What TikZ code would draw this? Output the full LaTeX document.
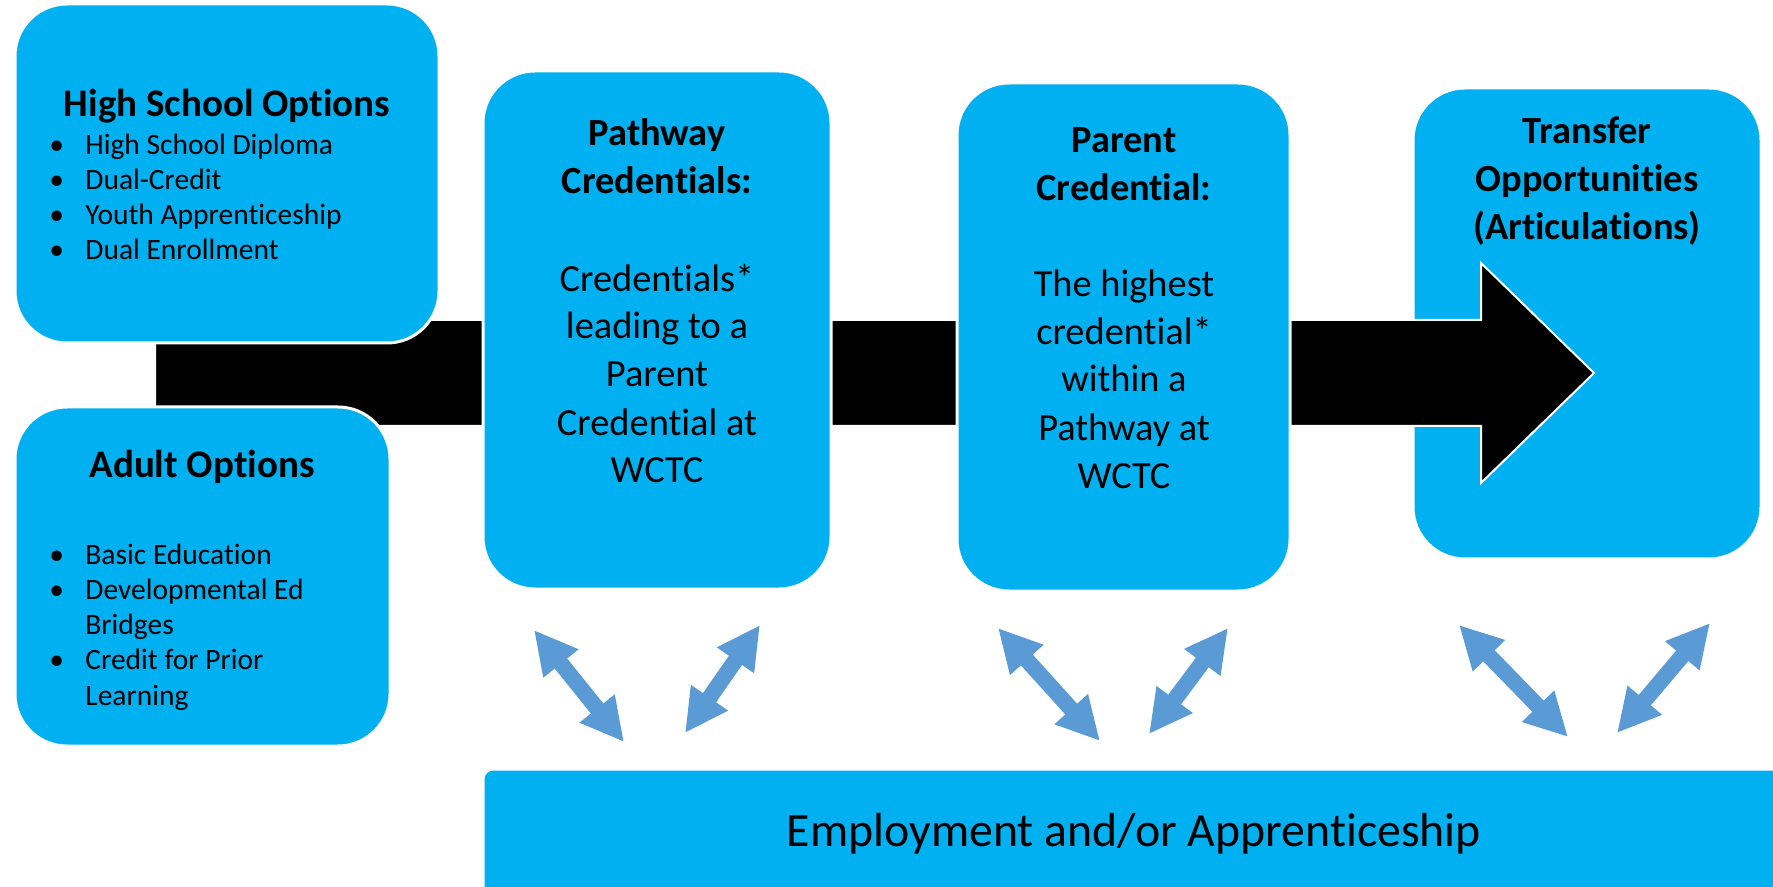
\documentclass[tikz,border=0pt]{standalone}
\usepackage{fontspec}
\setmainfont{Carlito}[Ligatures={NoCommon}]
\usepackage{tikz}
\usetikzlibrary{arrows.meta}
\definecolor{WctcCyan}{RGB}{ 0, 176, 240}
\definecolor{WctcSteel}{RGB}{ 91, 155, 213}

\newcommand{\itm}[1]{\makebox[18pt][l]{\textbullet}#1}

\begin{document}
\begin{tikzpicture}[x=0.5pt, y=-0.5pt]
      \tikzstyle{card}=[draw=white, line width=1.5pt, fill=WctcCyan, rounded corners=26pt, inner sep=0pt];
      \tikzstyle{head}=[font=\fontsize{19.2}{24}\selectfont\bfseries, align=center, inner sep=0pt, anchor=base];
      \tikzstyle{body}=[font=\fontsize{19.2}{24}\selectfont, align=center, inner sep=0pt, anchor=base];
      \tikzstyle{items}=[font=\fontsize{14.75}{17.6}\selectfont, align=left, inner sep=0pt, anchor=base west];
      \tikzstyle{link}=[WctcSteel, line width=8pt, {Triangle[width=21pt, length=21.5pt]}-{Triangle[width=21pt, length=21.5pt]}];

      \pgfdeclarelayer{background}
      \pgfdeclarelayer{foreground}
      \pgfsetlayers{background,main,foreground}

      \useasboundingbox (0,0) rectangle (1773,887);

      \begin{pgfonlayer}{background}
        \node[card, minimum width=174pt, minimum height=235.5pt] (transfer) at (1587,323.5) {};
      \end{pgfonlayer}

      % big flow arrow
      \draw[fill=black, draw=white, line width=1pt] (155,320) -- (1481,320) -- (1481,263) -- (1594,373)
        -- (1481,483) -- (1481,426) -- (155,426) -- cycle;

      \begin{pgfonlayer}{foreground}
        \node[card, minimum width=212pt, minimum height=169.5pt] (hs) at (227,173.5) {};
        \node[card, minimum width=187.5pt, minimum height=169.5pt] (adult) at (202.5,576.5) {};
        \node[card, minimum width=174pt, minimum height=259pt] (pathway) at (657,330) {};
        \node[card, minimum width=166.5pt, minimum height=254pt] (parent) at (1123.5,337) {};
        \node[card, rounded corners=5pt, minimum width=658.5pt, minimum height=75.5pt] (employ) at (1141.5,844.5) {};

        % multi-line texts sit on the baseline of their last line
        \node[head, font=\fontsize{19.5}{24}\selectfont\bfseries] (hs title) at (227,117) {High School Options};
        \node[items] (hs list) at (49,260) {\itm{High School Diploma}\\ \itm{Dual-Credit}\\
          \itm{Youth Apprenticeship}\\ \itm{Dual Enrollment}};

        \node[head, font=\fontsize{19.5}{24}\selectfont\bfseries] (adult title) at (202,478) {Adult Options};
        \node[items] (adult list) at (49,705) {\itm{Basic Education}\\ \itm{Developmental Ed}\\
          \hspace*{18pt}Bridges\\ \itm{Credit for Prior}\\ \hspace*{18pt}Learning};

        \node[head] (pathway title) at (657,194) {Pathway\\Credentials:};
        \node[body] (pathway text) at (657,483) {Credentials*\\leading to a\\Parent\\Credential at\\WCTC};

        \node[head] (parent title) at (1124,201) {Parent\\Credential:};
        \node[body] (parent text) at (1124,488) {The highest\\credential*\\within a\\Pathway at\\WCTC};

        \node[head] (transfer title) at (1587,240) {Transfer\\Opportunities\\(Articulations)};

        \node[body, font=\fontsize{23.9}{28}\selectfont] (employ text) at (1134,846) {Employment and/or Apprenticeship};
      \end{pgfonlayer}

      % two-way links to employment
      \coordinate (p1) at (534,630); \coordinate (e1) at (624,742);
      \coordinate (e2) at (685,733); \coordinate (p2) at (760,625);
      \coordinate (p3) at (998,628); \coordinate (e3) at (1100,741);
      \coordinate (e4) at (1149,734); \coordinate (p4) at (1228,628);
      \coordinate (p5) at (1459,625); \coordinate (e5) at (1568,737);
      \coordinate (e6) at (1617,733); \coordinate (p6) at (1710,623);
      \foreach \i in {1,...,6}
        \draw[link] (p\i) -- (e\i);
\end{tikzpicture}
\end{document}
